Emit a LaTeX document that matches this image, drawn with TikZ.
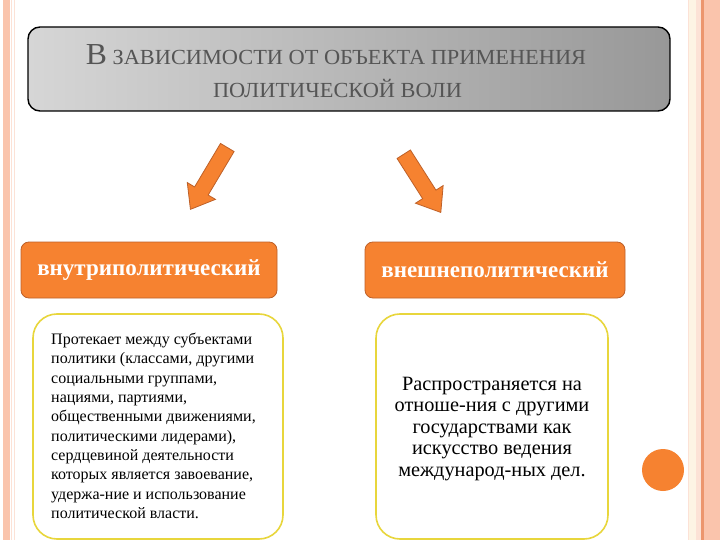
\documentclass[tikz,border=0pt]{standalone}
\usepackage{fontspec}
\setmainfont{Liberation Serif}
\newfontfamily\hdrfont[FakeStretch=1.04]{Liberation Serif}
\newfontfamily\lblfont{Liberation Serif}
\newfontfamily\txtfont{Liberation Serif}
\usetikzlibrary{shapes.arrows}
\definecolor{stripeA}{RGB}{250,196,172}
\definecolor{stripeB}{RGB}{252,226,214}
\definecolor{stripeC}{RGB}{236,150,110}
\definecolor{creamA}{RGB}{253,244,228}
\definecolor{orangeF}{RGB}{246,130,48}
\definecolor{orangeD}{RGB}{190,96,40}
\definecolor{yellowB}{RGB}{232,214,60}
\definecolor{hdrtext}{RGB}{85,85,85}
\definecolor{grayL}{RGB}{214,214,214}
\definecolor{grayR}{RGB}{152,152,152}
\tikzset{
  hdrbox/.style={draw=black, line width=1.4pt, rounded corners=12pt,
    left color=grayL, right color=grayR},
  lblbox/.style={draw=orangeD, line width=0.8pt, fill=orangeF, rounded corners=8pt,
    minimum width=256pt, minimum height=56pt, text=white,
    font=\lblfont\bfseries\fontsize{23}{23}\selectfont},
  txtbox/.style={draw=yellowB, line width=1.6pt, fill=white, rounded corners=24pt},
  blockarrow/.style={single arrow, draw=orangeD, line width=0.8pt, fill=orangeF,
    inner sep=7.5pt, single arrow head extend=8.5pt, single arrow tip angle=75,
    anchor=center},
}
\begin{document}
\begin{tikzpicture}[x=1pt,y=-1pt]
\useasboundingbox (0,0) rectangle (720,540);
\fill[white] (0,0) rectangle (720,540);
% left border stripes
\fill[stripeA] (3,0) rectangle (9.5,540);
\fill[stripeB] (11,0) rectangle (12,540);
\fill[stripeB] (14,0) rectangle (14.8,540);
% right border stripes
\fill[stripeB] (688,0) rectangle (689,540);
\fill[creamA] (689,0) rectangle (696,540);
\fill[stripeB] (696,0) rectangle (701,540);
\fill[stripeC] (701,0) rectangle (703.5,540);
\fill[stripeA] (703.5,0) rectangle (720,540);
% header
\path[hdrbox] (28,27) rectangle (670,111);
\node[coordinate] (hdr) at (349,69) {};
\node[text=hdrtext, align=center, font=\hdrfont, inner sep=0pt] (hdrtxt1) at (336,55)
  {{\fontsize{30.5}{30.5}\selectfont В}{\fontsize{21.5}{21.5}\selectfont\ ЗАВИСИМОСТИ ОТ ОБЪЕКТА ПРИМЕНЕНИЯ}};
\node[text=hdrtext, font=\hdrfont\fontsize{21.5}{21.5}\selectfont, inner sep=0pt] (hdrtxt2) at (337.5,88)
  {ПОЛИТИЧЕСКОЙ ВОЛИ};
% arrows
\node[blockarrow, minimum height=72pt, rotate=-120.8] (arrL) at (211.5,174) {};
\node[blockarrow, minimum height=69pt, rotate=-57.5] (arrR) at (419.5,179) {};
% label boxes
\node[lblbox] (lblL) at (149,270) {внутриполитический};
\node[lblbox, minimum width=260pt] (lblR) at (495,270) {внешнеполитический};
% text boxes
\path[txtbox] (33,314) rectangle (283,539);
\path[txtbox] (376,314) rectangle (608,539);
\node[anchor=north west, align=left, inner sep=0pt,
  font=\txtfont\fontsize{16}{19.3}\selectfont] (txtL) at (51,333)
  {Протекает между субъектами\\политики (классами, другими\\социальными группами,\\нациями, партиями,\\общественными движениями,\\политическими лидерами),\\сердцевиной деятельности\\которых является завоевание,\\удержа-ние и использование\\политической власти.};
\node[align=center, inner sep=0pt,
  font=\txtfont\fontsize{20.3}{21.5}\selectfont] (txtR) at (492,429)
  {Распространяется на\\отноше-ния с другими\\государствами как\\искусство ведения\\международ-ных дел.};
% circle
\fill[orangeF] (663,470) circle (21);
\node[coordinate] (dot) at (663,470) {};
\end{tikzpicture}
\end{document}
